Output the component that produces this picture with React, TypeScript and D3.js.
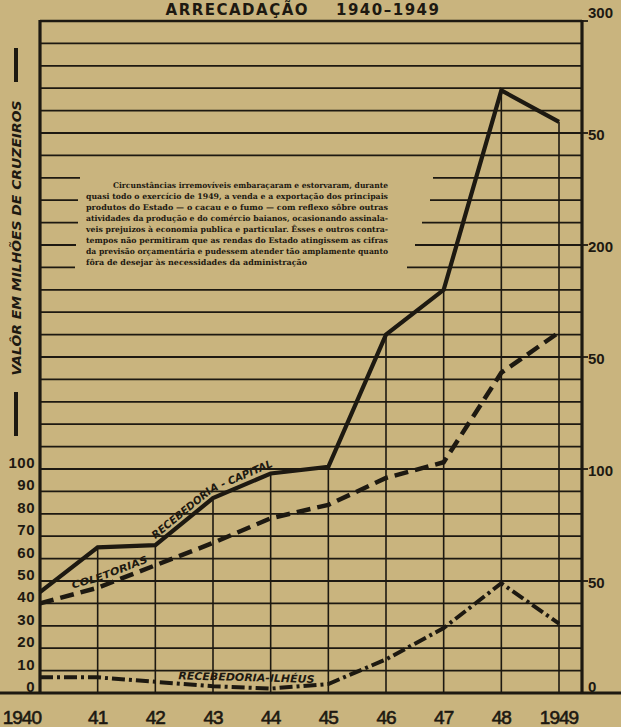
import * as d3 from "d3";

const years = [1940, 1941, 1942, 1943, 1944, 1945, 1946, 1947, 1948, 1949];
const yearLabels = ["1940", "41", "42", "43", "44", "45", "46", "47", "48", "1949"];

// valores em milhões de cruzeiros
const capital = [45, 65, 66, 87, 98, 101, 160, 180, 269, 255];
const coletorias = [40, 47, 57, 67, 78, 84, 96, 103, 143, 161];
const ilheus = [7, 7, 5, 3, 2, 4, 15, 29, 49, 31];

const leftTicks = [0, 10, 20, 30, 40, 50, 60, 70, 80, 90, 100];
const rightTicks = [0, 50, 100, 150, 200, 250, 300];
const rightTickLabels = ["0", "50", "100", "50", "200", "50", "300"];

const noteLines = [
  "Circunstâncias irremovíveis embaraçaram e estorvaram, durante",
  "quasi todo o exercício de 1949, a venda e a exportação dos principais",
  "produtos do Estado — o cacau e o fumo — com reflexo sôbre outras",
  "atividades da produção e do comércio baianos, ocasionando assinala-",
  "veis prejuizos à economia publica e particular.  Êsses e outros contra-",
  "tempos não permitiram que  as rendas do Estado atingissem as cifras",
  "da previsão orçamentária e pudessem atender tão amplamente quanto",
  "fôra de desejar às necessidades da administração",
];

// linhas da grade interrompidas pelo texto: [valor, fim à esquerda, início à direita]
const gapRows: [number, number, number][] = [
  [230, 80, 433],
  [220, 78, 430],
  [210, 78, 422],
  [200, 76, 415],
  [190, 75, 407],
];

const W = 621;
const H = 727;
const INK = "#1d1911";
const BG = "#c9b47e";

export default function App() {
  const x = d3.scaleLinear().domain([1940, 1949]).range([40, 559]);
  const y = d3.scaleLinear().domain([0, 300]).range([693, 21]);
  const left = 40;
  const right = 582;

  const line = d3
    .line<number>()
    .x((_, i) => x(years[i]))
    .y((d) => y(d));

  // caminhos para os rótulos, um pouco acima de cada série
  const labelPath = (vals: number[], from: number, to: number, dy: number) =>
    d3
      .line<number>()
      .x((_, i) => x(years[from + i]))
      .y((d) => y(d) - dy)(vals.slice(from, to + 1)) ?? "";

  const grid = d3.range(10, 300, 10);
  const labelFont = {
    fontFamily: "DejaVu Sans",
    fontWeight: "bold",
    fontStyle: "italic",
    fill: INK,
  } as const;

  return (
    <svg width={W} height={H} viewBox={`0 0 ${W} ${H}`} style={{ display: "block" }}>
      <style>{"body{margin:0}"}</style>
      <rect width={W} height={H} fill={BG} />
      <defs>
        <path id="lbl-cap" d={labelPath(capital, 2, 5, 6)} />
        <path id="lbl-col" d={labelPath(coletorias, 0, 3, 6)} />
      </defs>

      {/* título */}
      <text
        x={303}
        y={15}
        textAnchor="middle"
        fontFamily="DejaVu Sans"
        fontWeight="bold"
        fontSize={15}
        letterSpacing={1.5}
        fill={INK}
      >
        ARRECADAÇÃO{"\u00a0\u00a0\u00a0\u00a0"}1940–1949
      </text>

      {/* grade horizontal */}
      {grid.map((v) => {
        const gap = gapRows.find((g) => g[0] === v);
        if (gap) {
          return (
            <g key={v}>
              <line x1={left} x2={gap[1]} y1={y(v)} y2={y(v)} stroke={INK} strokeWidth={1.8} />
              <line x1={gap[2]} x2={right} y1={y(v)} y2={y(v)} stroke={INK} strokeWidth={1.8} />
            </g>
          );
        }
        return <line key={v} x1={left} x2={right} y1={y(v)} y2={y(v)} stroke={INK} strokeWidth={1.8} />;
      })}
      <line x1={left} x2={right} y1={y(300)} y2={y(300)} stroke={INK} strokeWidth={2.5} />

      {/* verticais de cada ano, da linha da capital até a base */}
      {years.slice(1).map((yr, i) => (
        <line
          key={yr}
          x1={x(yr)}
          x2={x(yr)}
          y1={y(capital[i + 1])}
          y2={y(0)}
          stroke={INK}
          strokeWidth={1.6}
        />
      ))}

      {/* eixos */}
      <line x1={left} x2={left} y1={y(300) - 1} y2={y(0)} stroke={INK} strokeWidth={3.2} />
      <line x1={right} x2={right} y1={y(300) - 1} y2={y(0)} stroke={INK} strokeWidth={3.2} />
      <line x1={0} x2={W} y1={y(0)} y2={y(0)} stroke={INK} strokeWidth={3.2} />

      {/* séries */}
      <path d={line(capital) ?? ""} fill="none" stroke={INK} strokeWidth={4.2} strokeLinejoin="miter" />
      <path d={line(coletorias) ?? ""} fill="none" stroke={INK} strokeWidth={4.5} strokeDasharray="14 7" />
      <path
        d={line(ilheus) ?? ""}
        fill="none"
        stroke={INK}
        strokeWidth={4}
        strokeDasharray="13 4 3 4"
      />

      {/* rótulos das séries */}
      <text {...labelFont} fontSize={10.5}>
        <textPath href="#lbl-cap" startOffset={0} textLength={140} lengthAdjust="spacingAndGlyphs">
          RECEBEDORIA - CAPITAL
        </textPath>
      </text>
      <text {...labelFont} fontSize={10}>
        <textPath href="#lbl-col" startOffset={34} textLength={80} lengthAdjust="spacingAndGlyphs">
          COLETORIAS
        </textPath>
      </text>
      <text
        {...labelFont}
        transform={`translate(${x(1942) + 23},${y(ilheus[3]) - 7}) rotate(1.5)`}
        fontSize={10.5}
        textLength={136}
        lengthAdjust="spacingAndGlyphs"
      >
        RECEBEDORIA-ILHÉUS
      </text>

      {/* nota */}
      {noteLines.map((t, i) => {
        const last = i === noteLines.length - 1;
        const x0 = i === 0 ? 113 : 86;
        return (
          <text
            key={i}
            x={x0}
            y={188 + i * 11}
            fontFamily="DejaVu Serif"
            fontWeight="bold"
            fontSize={7.8}
            textLength={last ? 221 : 388 - x0}
            lengthAdjust="spacingAndGlyphs"
            fill={INK}
          >
            {t}
          </text>
        );
      })}

      {/* escala esquerda */}
      {leftTicks.map((v) => (
        <text
          key={v}
          x={35}
          y={y(v) - 5}
          textAnchor="end"
          dominantBaseline="middle"
          fontFamily="Liberation Sans"
          fontWeight="bold"
          fontSize={15}
          letterSpacing={0.5}
          fill={INK}
        >
          {v}
        </text>
      ))}

      {/* escala direita */}
      {rightTicks.map((v, i) => (
        <g key={v}>
          <line x1={right} x2={right + 6} y1={y(v)} y2={y(v)} stroke={INK} strokeWidth={1.8} />
          <text
            x={right + 6}
            y={v === 300 ? y(v) - 7 : v === 0 ? y(v) - 5 : y(v) + 3}
            dominantBaseline="middle"
            fontFamily="Liberation Sans"
            fontWeight="bold"
            fontSize={15}
            fill={INK}
          >
            {rightTickLabels[i]}
          </text>
        </g>
      ))}

      {/* anos */}
      {years.map((yr, i) => (
        <text
          key={yr}
          x={i === 0 ? x(yr) + 1 : x(yr)}
          y={724}
          textAnchor={i === 0 ? "end" : "middle"}
          fontFamily="Liberation Sans"
          fontSize={19}
          letterSpacing={-1}
          stroke={INK}
          strokeWidth={0.6}
          fill={INK}
        >
          {yearLabels[i]}
        </text>
      ))}

      {/* título do eixo */}
      <line x1={16} x2={16} y1={48} y2={82} stroke={INK} strokeWidth={4} />
      <line x1={16} x2={16} y1={392} y2={436} stroke={INK} strokeWidth={4} />
      <text
        transform="translate(21,238) rotate(-90)"
        textAnchor="middle"
        fontFamily="DejaVu Sans"
        fontWeight="bold"
        fontStyle="italic"
        fontSize={13}
        textLength={275}
        lengthAdjust="spacingAndGlyphs"
        fill={INK}
      >
        VALÔR EM MILHÕES DE CRUZEIROS
      </text>
    </svg>
  );
}
